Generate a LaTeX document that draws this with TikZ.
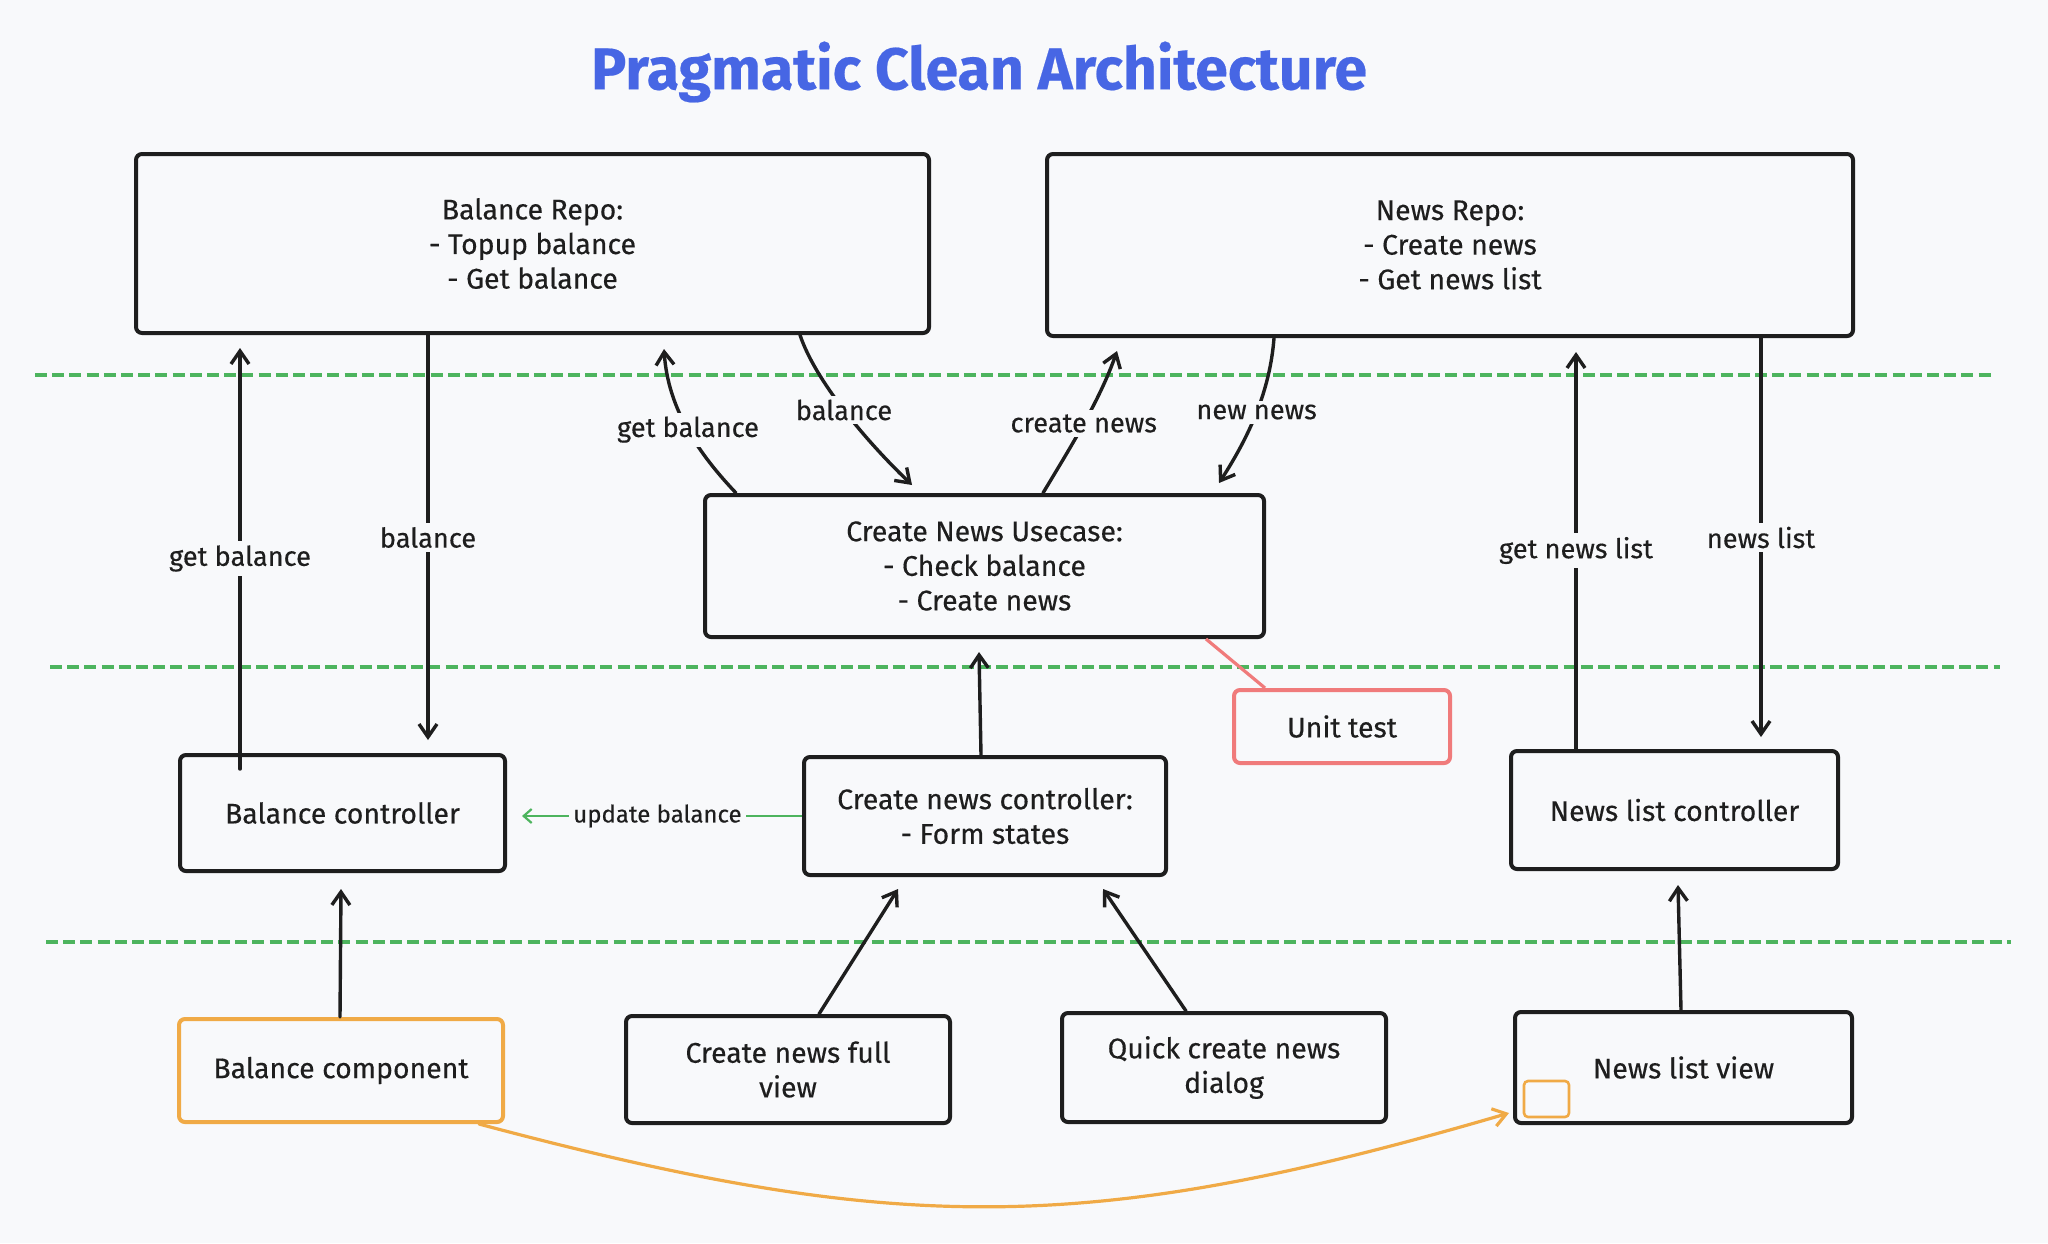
\documentclass[tikz,border=0pt]{standalone}
\usepackage{fontspec}
\setmainfont{Fira Sans}[FakeBold=0.35]
\usetikzlibrary{arrows.meta,calc}
\definecolor{bgc}{HTML}{F8F9FB}
\definecolor{titleblue}{HTML}{4766E4}
\definecolor{sepgreen}{HTML}{4DB45E}
\definecolor{testred}{HTML}{F07B7B}
\definecolor{comporange}{HTML}{F0AA46}
\definecolor{ink}{HTML}{1E1E1E}
\newcommand\boxfont{\fontsize{14.2}{17.3}\selectfont}
\newcommand\lblfont{\fontsize{13.6}{15}\selectfont}
\newcommand\smallfont{\fontsize{12}{13}\selectfont}
\newcommand\titlefont{\fontsize{29.5}{34}\selectfont\bfseries}
\begin{document}
\begin{tikzpicture}[x=0.5pt,y=-0.5pt,
  box/.style={draw=ink,line width=2pt,rounded corners=3pt,fill=bgc,text=ink,align=center,inner sep=0pt,font=\boxfont},
  conn/.style={draw=ink,line width=1.7pt,line cap=round,-{Straight Barb[length=6.5pt,width=9pt,line width=1.7pt]}},
  lbl/.style={fill=bgc,text=ink,font=\lblfont,inner sep=2pt},
  sep/.style={draw=sepgreen,line width=1.6pt,dash pattern=on 6pt off 2.6pt},
]
\fill[bgc] (0,0) rectangle (2048,1243);
\useasboundingbox (0,0) rectangle (2048,1243);

% separators
\draw[sep] (35,375) -- (1992,375);
\draw[sep] (50,667) -- (2000,667);
\draw[sep] (46,942) -- (2011,942);

% title
\node[font=\titlefont,text=titleblue] (title) at (979,72) {Pragmatic Clean Architecture};

% boxes
\node[box,minimum width=396.5pt,minimum height=89.5pt] (brepo) at (532.5,243.5) {Balance Repo:\\- Topup balance\\- Get balance};
\node[box,minimum width=403pt,minimum height=91pt] (nrepo) at (1450,245) {News Repo:\\- Create news\\- Get news list};
\node[box,minimum width=279.5pt,minimum height=71pt] (usecase) at (984.5,566) {Create News Usecase:\\- Check balance\\- Create news};
\node[box,draw=testred,minimum width=108pt,minimum height=36.5pt] (unittest) at (1342,726.5) {Unit test};
\node[box,minimum width=162.5pt,minimum height=58pt] (bctrl) at (342.5,813) {Balance controller};
\node[box,minimum width=181pt,minimum height=59pt] (cctrl) at (985,816) {Create news controller:\\- Form states};
\node[box,minimum width=163.5pt,minimum height=59pt] (nctrl) at (1674.5,810) {News list controller};
\node[box,draw=comporange,minimum width=162pt,minimum height=51.5pt] (bcomp) at (341,1070.5) {Balance component};
\node[box,minimum width=162pt,minimum height=53.5pt] (cfull) at (788,1069.5) {Create news full\\view};
\node[box,minimum width=162pt,minimum height=54.5pt] (quick) at (1224,1067.5) {Quick create news\\dialog};
\node[box,minimum width=168.5pt,minimum height=55.5pt] (nview) at (1683.5,1067.5) {News list view};
\node[draw=comporange,line width=1.3pt,rounded corners=2pt,minimum width=22.5pt,minimum height=18pt,inner sep=0pt] (marker) at (1546.5,1099) {};

% vertical connectors, left
\draw[conn] ($(bctrl.north west)+(62,16)$) -- node[lbl,pos=0.5] {get balance} ($(brepo.south west)+(106,13)$);
\draw[conn] ($(brepo.south west)+(294,0)$) -- node[lbl,pos=0.5] {balance} ($(bctrl.north west)+(250,-13)$);

% curved connectors, middle
\draw[conn] ($(usecase.north west)+(33,0)$) .. controls (700,455) and (668,410) .. node[lbl,pos=0.5] {get balance} ($(brepo.south west)+(530,14)$);
\draw[conn] ($(brepo.south west)+(666,0)$) .. controls (815,380) and (865,440) .. node[lbl,pos=0.5] {balance} ($(usecase.north west)+(209,-8)$);
\draw[conn] ($(usecase.north west)+(340,0)$) .. controls (1070,448) and (1100,400) .. node[lbl,pos=0.5] {create news} ($(nrepo.south west)+(72,13)$);
\draw[conn] ($(nrepo.south west)+(229,0)$) .. controls (1270,390) and (1250,435) .. node[lbl,pos=0.5] {new news} ($(usecase.north west)+(516,-10)$);

% vertical connectors, right
\draw[conn] ($(nctrl.north west)+(67,0)$) -- node[lbl,pos=0.5] {get news list} ($(nrepo.south west)+(531,14)$);
\draw[conn] ($(nrepo.south west)+(716,0)$) -- node[lbl,pos=0.5] {news list} ($(nctrl.north west)+(252,-12)$);

% controller -> usecase
\draw[conn] ($(cctrl.north west)+(179,0)$) -- ($(usecase.south west)+(276,13)$);

% update balance
\draw[draw=sepgreen,line width=1.1pt,-{Straight Barb[length=4pt,width=7pt,line width=1.1pt]},shorten >=7.5pt] (cctrl.west) -- node[fill=bgc,text=ink,font=\smallfont,inner sep=2pt,pos=0.49] {update balance} (cctrl.west -| bctrl.east);

% unit test link
\draw[draw=testred,line width=1.6pt] ($(usecase.south west)+(503,0)$) -- ($(unittest.north west)+(33,0)$);

% bottom layer -> controllers
\draw[conn] ($(bcomp.north west)+(163,0)$) -- ($(bctrl.south west)+(163,16)$);
\draw[conn] ($(cfull.north west)+(195,0)$) -- ($(cctrl.south west)+(96,12)$);
\draw[conn] ($(quick.north west)+(126,0)$) -- ($(cctrl.south west)+(301,12)$);
\draw[conn] ($(nview.north west)+(168,0)$) -- ($(nctrl.south west)+(169,14)$);

% orange curve
\draw[draw=comporange,line width=1.6pt,line cap=round,-{Straight Barb[length=6.5pt,width=9pt,line width=1.6pt]}] ($(bcomp.south east)+(-26,0)$) .. controls (899,1236) and (1089,1236) .. ($(nview.south west)+(-4,-12)$);
\end{tikzpicture}
\end{document}
